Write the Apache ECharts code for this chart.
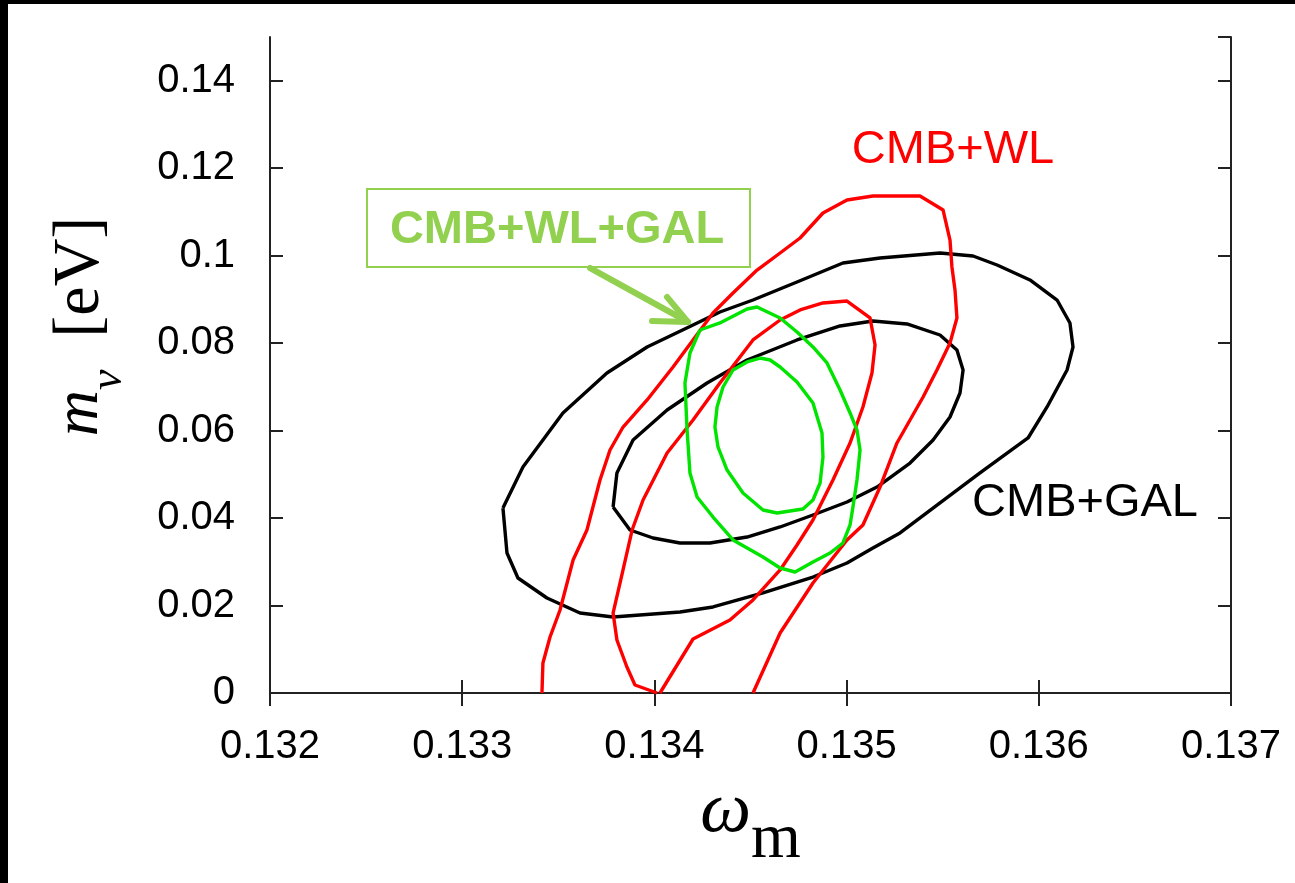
<!DOCTYPE html>
<html>
<head>
<meta charset="utf-8">
<title>m_nu vs omega_m</title>
<script src="https://cdn.jsdelivr.net/npm/echarts@6/dist/echarts.min.js"></script>
<style>
  html, body { margin: 0; padding: 0; background: #000; }
  #chart { position: absolute; left: 8px; top: 4px; width: 1287px; height: 879px; background: #fff; }
</style>
</head>
<body>
<div id="chart"></div>
<script>
  // axis ranges
  var xRange = [0.132, 0.137];
  var yRange = [0, 0.15];
  var xStep = 0.001;
  var yStep = 0.02;

  // CMB+GAL contours (black)
  var galOuter = [
    [0.133212,0.04230],[0.133233,0.03201],[0.133290,0.02630],[0.133441,0.02172],[0.133613,0.01829],
    [0.133785,0.01738],[0.134133,0.01852],[0.134305,0.01967],[0.134565,0.02287],[0.134825,0.02652],
    [0.135002,0.02973],[0.135137,0.03316],[0.135278,0.03659],[0.135486,0.04345],[0.135694,0.05031],
    [0.135944,0.05831],[0.136043,0.06540],[0.136147,0.07386],[0.136178,0.07912],[0.136162,0.08461],
    [0.136095,0.08986],[0.135954,0.09444],[0.135783,0.09787],[0.135658,0.09993],[0.135486,0.10061],
    [0.135174,0.09947],[0.134981,0.09832],[0.134742,0.09398],[0.134513,0.08986],[0.134341,0.08712],
    [0.134201,0.08415],[0.133962,0.07912],[0.133753,0.07317],[0.133524,0.06403],[0.133316,0.05168],
    [0.133212,0.04230]
  ];
  var galInner = [
    [0.133785,0.04253],[0.133873,0.03727],[0.133993,0.03544],[0.134133,0.03430],[0.134289,0.03430],
    [0.134482,0.03567],[0.134654,0.03796],[0.134825,0.04070],[0.135002,0.04367],[0.135158,0.04710],
    [0.135330,0.05259],[0.135450,0.05785],[0.135538,0.06311],[0.135590,0.06860],[0.135606,0.07386],
    [0.135574,0.07843],[0.135486,0.08186],[0.135314,0.08438],[0.135137,0.08506],[0.134966,0.08392],
    [0.134742,0.08072],[0.134482,0.07614],[0.134274,0.07089],[0.134066,0.06471],[0.133889,0.05785],
    [0.133805,0.05031],[0.133785,0.04253]
  ];

  // CMB+WL contours (red), cut by m_nu = 0
  var wlOuter = [
    [0.133415,0],[0.133420,0.00686],[0.133457,0.01281],[0.133509,0.01898],[0.133577,0.03041],
    [0.133649,0.03727],[0.133717,0.04871],[0.133769,0.05557],[0.133837,0.06082],[0.133962,0.06700],
    [0.134097,0.07454],[0.134201,0.08072],[0.134305,0.08689],[0.134409,0.09146],[0.134534,0.09672],
    [0.134654,0.10061],[0.134758,0.10404],[0.134877,0.10976],[0.135002,0.11273],[0.135137,0.11364],
    [0.135382,0.11364],[0.135502,0.11044],[0.135538,0.10358],[0.135548,0.09741],[0.135564,0.09215],
    [0.135574,0.08575],[0.135538,0.08003],[0.135470,0.07386],[0.135398,0.06768],[0.135262,0.05717],
    [0.135174,0.04710],[0.135085,0.03842],[0.135002,0.03499],[0.134825,0.02515],[0.134654,0.01372],
    [0.134513,0]
  ];
  var wlInner = [
    [0.134014,0],[0.133899,0.00183],[0.133857,0.00595],[0.133805,0.01212],[0.133785,0.01829],
    [0.133821,0.02515],[0.133884,0.03727],[0.133941,0.04413],[0.134066,0.05488],[0.134201,0.06242],
    [0.134341,0.07089],[0.134513,0.08072],[0.134654,0.08529],[0.134758,0.08758],[0.134877,0.08918],
    [0.135002,0.08963],[0.135122,0.08575],[0.135148,0.07957],[0.135132,0.07317],[0.135085,0.06540],
    [0.135018,0.05717],[0.134929,0.04871],[0.134825,0.03956],[0.134742,0.03384],[0.134654,0.02813],
    [0.134513,0.02127],[0.134393,0.01669],[0.134201,0.01235],[0.134029,0]
  ];

  // CMB+WL+GAL contours (green)
  var allOuter = [
    [0.134237,0.08300],[0.134341,0.08461],[0.134482,0.08781],[0.134534,0.08826],[0.134654,0.08575],
    [0.134742,0.08255],[0.134825,0.07912],[0.134898,0.07546],[0.134966,0.06928],[0.135018,0.06403],
    [0.135054,0.06014],[0.135070,0.05557],[0.135054,0.04871],[0.135033,0.04253],[0.135018,0.03842],
    [0.134981,0.03430],[0.134914,0.03201],[0.134825,0.02995],[0.134732,0.02767],[0.134654,0.02858],
    [0.134565,0.03110],[0.134409,0.03499],[0.134305,0.04024],[0.134222,0.04482],[0.134185,0.05031],
    [0.134170,0.06014],[0.134159,0.07089],[0.134185,0.07774],[0.134237,0.08300]
  ];
  var allInner = [
    [0.134549,0.07660],[0.134482,0.07569],[0.134409,0.07386],[0.134357,0.06997],[0.134326,0.06540],
    [0.134315,0.06082],[0.134331,0.05625],[0.134378,0.05099],[0.134461,0.04573],[0.134565,0.04185],
    [0.134638,0.04116],[0.134773,0.04207],[0.134825,0.04413],[0.134862,0.04802],[0.134877,0.05396],
    [0.134872,0.05945],[0.134825,0.06631],[0.134742,0.07111],[0.134654,0.07454],[0.134602,0.07614],
    [0.134549,0.07660]
  ];

  var myChart = echarts.init(document.getElementById('chart'));

  var serif = 'Liberation Serif, DejaVu Serif, serif';
  var sans = 'Liberation Sans, Arial, sans-serif';
  var frame = { show: true, lineStyle: { color: '#222', width: 2 } };
  var tick = { show: true, inside: true, length: 13, lineStyle: { color: '#222', width: 2 } };

  function contour(name, data, color) {
    return {
      name: name,
      type: 'line',
      data: data,
      showSymbol: false,
      symbol: 'none',
      smooth: false,
      silent: true,
      lineStyle: { color: color, width: 3.4, join: 'round' },
      z: 3
    };
  }

  var option = {
    animation: false,
    backgroundColor: '#ffffff',
    grid: { left: 262, top: 33, right: 64, bottom: 190 },
    xAxis: [{
      type: 'value',
      min: xRange[0], max: xRange[1], interval: xStep,
      axisLine: frame, axisTick: tick, splitLine: { show: false },
      axisLabel: {
        margin: 34, fontSize: 40, fontFamily: sans, color: '#000',
        formatter: function (v) { return v.toFixed(3); }
      },
      name: '{w|ω}{m|m}',
      nameLocation: 'middle',
      nameGap: 59,
      nameTextStyle: {
        rich: {
          w: { fontFamily: serif, fontStyle: 'italic', fontSize: 72, color: '#000' },
          m: { fontFamily: serif, fontSize: 64, color: '#000', padding: [56, 0, 0, 0] }
        }
      }
    }, {
      type: 'value', position: 'top',
      min: xRange[0], max: xRange[1], interval: xStep,
      axisLine: frame, axisTick: tick, splitLine: { show: false },
      axisLabel: { show: false }
    }],
    yAxis: [{
      type: 'value',
      min: yRange[0], max: yRange[1], interval: yStep,
      axisLine: frame, axisTick: tick, splitLine: { show: false },
      axisLabel: {
        margin: 35, fontSize: 40, fontFamily: sans, color: '#000',
        showMaxLabel: false,
        formatter: function (v) { return String(+v.toFixed(2)); }
      },
      name: '{m|m}{nu|ν}{sp|  }{ev|[eV]}',
      nameLocation: 'middle',
      nameRotate: 90,
      nameGap: 138,
      nameTextStyle: {
        padding: [0, 0, 0, 77],
        rich: {
          m: { fontFamily: serif, fontStyle: 'italic', fontSize: 64, color: '#000' },
          nu: { fontFamily: serif, fontStyle: 'italic', fontSize: 46, color: '#000', padding: [57, 0, 0, 0] },
          sp: { fontFamily: serif, fontSize: 64, color: '#000' },
          ev: { fontFamily: serif, fontSize: 66, color: '#000' }
        }
      }
    }, {
      type: 'value', position: 'right',
      min: yRange[0], max: yRange[1], interval: yStep,
      axisLine: frame, axisTick: tick, splitLine: { show: false },
      axisLabel: { show: false }
    }],
    series: [
      contour('CMB+GAL 95%', galOuter, '#000000'),
      contour('CMB+GAL 68%', galInner, '#000000'),
      contour('CMB+WL 95%', wlOuter, '#ff0000'),
      contour('CMB+WL 68%', wlInner, '#ff0000'),
      contour('CMB+WL+GAL 95%', allOuter, '#00e400'),
      contour('CMB+WL+GAL 68%', allInner, '#00e400')
    ],
    graphic: [
      {
        type: 'text', x: 945, y: 146, z: 10,
        style: { text: 'CMB+WL', fill: '#ff0000', font: '47px ' + sans, align: 'center', verticalAlign: 'middle' }
      },
      {
        type: 'text', x: 1077, y: 499, z: 10,
        style: { text: 'CMB+GAL', fill: '#000000', font: '47px ' + sans, align: 'center', verticalAlign: 'middle' }
      },
      {
        type: 'rect', z: 10,
        shape: { x: 359, y: 185, width: 383, height: 78 },
        style: { fill: '#ffffff', stroke: '#92d050', lineWidth: 2 }
      },
      {
        type: 'text', x: 549, y: 226, z: 11,
        style: { text: 'CMB+WL+GAL', fill: '#92d050', font: 'bold 47px ' + sans, align: 'center', verticalAlign: 'middle' }
      },
      {
        type: 'polyline', z: 10,
        shape: { points: [[582, 264], [680, 318]] },
        style: { stroke: '#92d050', lineWidth: 6, lineCap: 'round', fill: null }
      },
      {
        type: 'polyline', z: 10,
        shape: { points: [[659, 293], [680, 318], [644, 317]] },
        style: { stroke: '#92d050', lineWidth: 6, lineCap: 'round', lineJoin: 'round', fill: null }
      }
    ]
  };

  myChart.setOption(option);
</script>
</body>
</html>
